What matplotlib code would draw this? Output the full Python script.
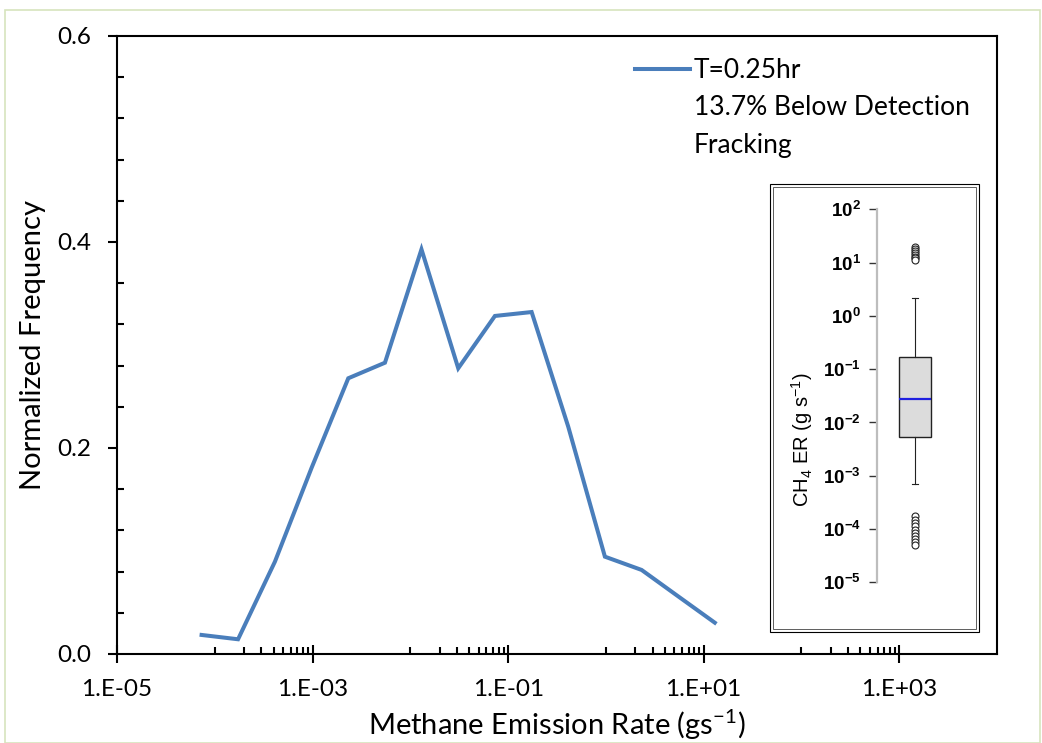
import matplotlib
matplotlib.use("Agg")
import matplotlib.pyplot as plt
from matplotlib.lines import Line2D
from matplotlib.patches import Rectangle
import numpy as np

# ---------------- data ----------------
emission_rate = [7.33e-5, 1.73e-4, 4.12e-4, 9.8e-4, 2.32e-3, 5.5e-3, 1.30e-2,
                 3.09e-2, 7.33e-2, 0.174, 0.412, 0.977, 2.32, 5.5, 13.0]
norm_freq = [0.0185, 0.0143, 0.0896, 0.181, 0.2677, 0.2828, 0.3929,
             0.2774, 0.3282, 0.332, 0.2207, 0.0945, 0.0816, 0.0559, 0.0304]

legend_labels = ["T=0.25hr", "13.7% Below Detection", "Fracking"]

x_major_ticks = [1e-5, 1e-3, 1e-1, 1e1, 1e3]
x_major_labels = ["1.E-05", "1.E-03", "1.E-01", "1.E+01", "1.E+03"]
y_major_ticks = [0.0, 0.2, 0.4, 0.6]
y_major_labels = ["0.0", "0.2", "0.4", "0.6"]

# inset boxplot statistics (g s^-1)
box_q1 = 5.27e-3
box_med = 2.76e-2
box_q3 = 0.167
box_whislo = 6.9e-4
box_whishi = 2.14
box_fliers = [19.5, 18.0, 16.5, 15.0, 13.8, 12.8, 12.0, 11.4,
              1.75e-4, 1.5e-4, 1.3e-4, 1.12e-4, 9.7e-5, 8.4e-5, 7.3e-5,
              6.4e-5, 5.6e-5, 5.0e-5]
inset_ticks = [1e-5, 1e-4, 1e-3, 1e-2, 1e-1, 1e0, 1e1, 1e2]
inset_tick_labels = [r"$\mathbf{10^{-5}}$", r"$\mathbf{10^{-4}}$",
                     r"$\mathbf{10^{-3}}$", r"$\mathbf{10^{-2}}$",
                     r"$\mathbf{10^{-1}}$", r"$\mathbf{10^{0}}$",
                     r"$\mathbf{10^{1}}$", r"$\mathbf{10^{2}}$"]

plt.rcParams["mathtext.fontset"] = "custom"
plt.rcParams["mathtext.rm"] = "Liberation Sans"
plt.rcParams["mathtext.it"] = "Liberation Sans:italic"
plt.rcParams["mathtext.bf"] = "Liberation Sans:bold"

# ---------------- figure ----------------
W, H = 1042, 743
fig = plt.figure(figsize=(W / 100, H / 100), dpi=100)
fig.patch.set_facecolor("white")


def px_rect(x0, y0, x1, y1):
    return [x0 / W, 1 - y1 / H, (x1 - x0) / W, (y1 - y0) / H]


FONT = "Lato"
FS = 17.5
LFS = 21

# outer chart-area border
fig.add_artist(Rectangle((5 / W, 0), (1040 - 5) / W, 1 - 10 / H,
                         transform=fig.transFigure, fill=False,
                         edgecolor="#d7e4bd", lw=1.2))

ax = fig.add_axes(px_rect(117, 36, 997, 654))
ax.plot(emission_rate, norm_freq, color="#4a7ebb", lw=2.9,
        solid_joinstyle="miter")
ax.set_xscale("log")
ax.set_xlim(1e-5, 1e4)
ax.set_ylim(0, 0.6)

ax.xaxis.set_major_locator(matplotlib.ticker.FixedLocator(x_major_ticks))
ax.xaxis.set_major_formatter(matplotlib.ticker.FixedFormatter(x_major_labels))
minor_x = [k * 10.0 ** n for n in (-4, -2, 0, 2) for k in range(1, 10)]
ax.xaxis.set_minor_locator(matplotlib.ticker.FixedLocator(minor_x))
ax.xaxis.set_minor_formatter(matplotlib.ticker.NullFormatter())

ax.yaxis.set_major_locator(matplotlib.ticker.FixedLocator(y_major_ticks))
ax.yaxis.set_major_formatter(matplotlib.ticker.FixedFormatter(y_major_labels))
ax.yaxis.set_minor_locator(matplotlib.ticker.MultipleLocator(0.04))

for s in ax.spines.values():
    s.set_linewidth(1.5)
    s.set_color("black")

ax.tick_params(axis="x", which="major", direction="inout", length=12.5,
               width=1.5, pad=12, labelsize=FS)
ax.tick_params(axis="x", which="minor", direction="in", length=5, width=1.5)
ax.tick_params(axis="y", which="major", direction="out", length=6.5,
               width=1.5, pad=12, labelsize=FS)
ax.tick_params(axis="y", which="minor", direction="in", length=5, width=1.5)
for lab in ax.get_xticklabels() + ax.get_yticklabels():
    lab.set_fontfamily(FONT)

ax.set_xlabel(r"Methane Emission Rate (gs$^{\mathdefault{-1}}$)",
              fontsize=LFS, family=FONT, labelpad=5)
ax.set_ylabel("Normalized Frequency", fontsize=LFS, family=FONT,
              labelpad=8)

handles = [Line2D([], [], color="#4a7ebb", lw=2.9),
           Line2D([], [], color="none"),
           Line2D([], [], color="none")]
leg = ax.legend(handles, legend_labels, loc="upper left",
                bbox_to_anchor=(0.5892, 0.9644),
                frameon=False, prop={"family": FONT, "size": 19},
                handlelength=2.05, handletextpad=0.15, labelspacing=0.47,
                borderaxespad=0, borderpad=0)

# ---------------- inset ----------------
fig.add_artist(Rectangle((770 / W, 1 - 632 / H), 209 / W, 448 / H,
                         transform=fig.transFigure, fill=False,
                         edgecolor="black", lw=0.8))
fig.add_artist(Rectangle((773 / W, 1 - 629 / H), 203 / W, 442 / H,
                         transform=fig.transFigure, fill=False,
                         edgecolor="#444444", lw=0.6))

iax = fig.add_axes(px_rect(770, 184, 979, 632))
iax.set_facecolor("none")
iax.set_yscale("log")
iax.set_ylim(10 ** -5.932, 10 ** 2.475)
iax.set_xlim(0, 1)
for k in ("top", "right", "bottom"):
    iax.spines[k].set_visible(False)
iax.spines["left"].set_position(("axes", 0.513))
iax.spines["left"].set_bounds(1e-5, 1e2)
iax.spines["left"].set_color("#bdbdbd")
iax.spines["left"].set_linewidth(1.6)

stats = [dict(med=box_med, q1=box_q1, q3=box_q3, whislo=box_whislo,
              whishi=box_whishi, fliers=box_fliers)]
iax.bxp(stats, positions=[0.695], widths=[0.152], patch_artist=True,
        manage_ticks=False,
        boxprops=dict(facecolor="#dcdcdc", edgecolor="#222222", lw=1),
        medianprops=dict(color="#1f1fe0", lw=1.6),
        whiskerprops=dict(color="#222222", lw=0.8),
        capprops=dict(color="#222222", lw=0.8), capwidths=[0.03],
        flierprops=dict(marker="o", markersize=5, markerfacecolor="white",
                        markeredgecolor="#222222", markeredgewidth=0.8))
iax.set_xticks([])
iax.set_xlim(0, 1)
iax.yaxis.set_major_locator(matplotlib.ticker.FixedLocator(inset_ticks))
iax.yaxis.set_major_formatter(matplotlib.ticker.FixedFormatter(inset_tick_labels))
iax.yaxis.set_minor_locator(matplotlib.ticker.NullLocator())
iax.tick_params(axis="y", which="major", direction="out", length=6, width=1,
                color="#333333", pad=6, labelsize=13.5)

iax.set_ylabel(r"CH$_{\mathdefault{4}}$ ER (g s$^{\mathdefault{-1}}$)",
               family="Liberation Sans", fontsize=14.5)
iax.yaxis.set_label_coords(0.215, 0.43)

fig.savefig("out.png", dpi=100, facecolor="white")
